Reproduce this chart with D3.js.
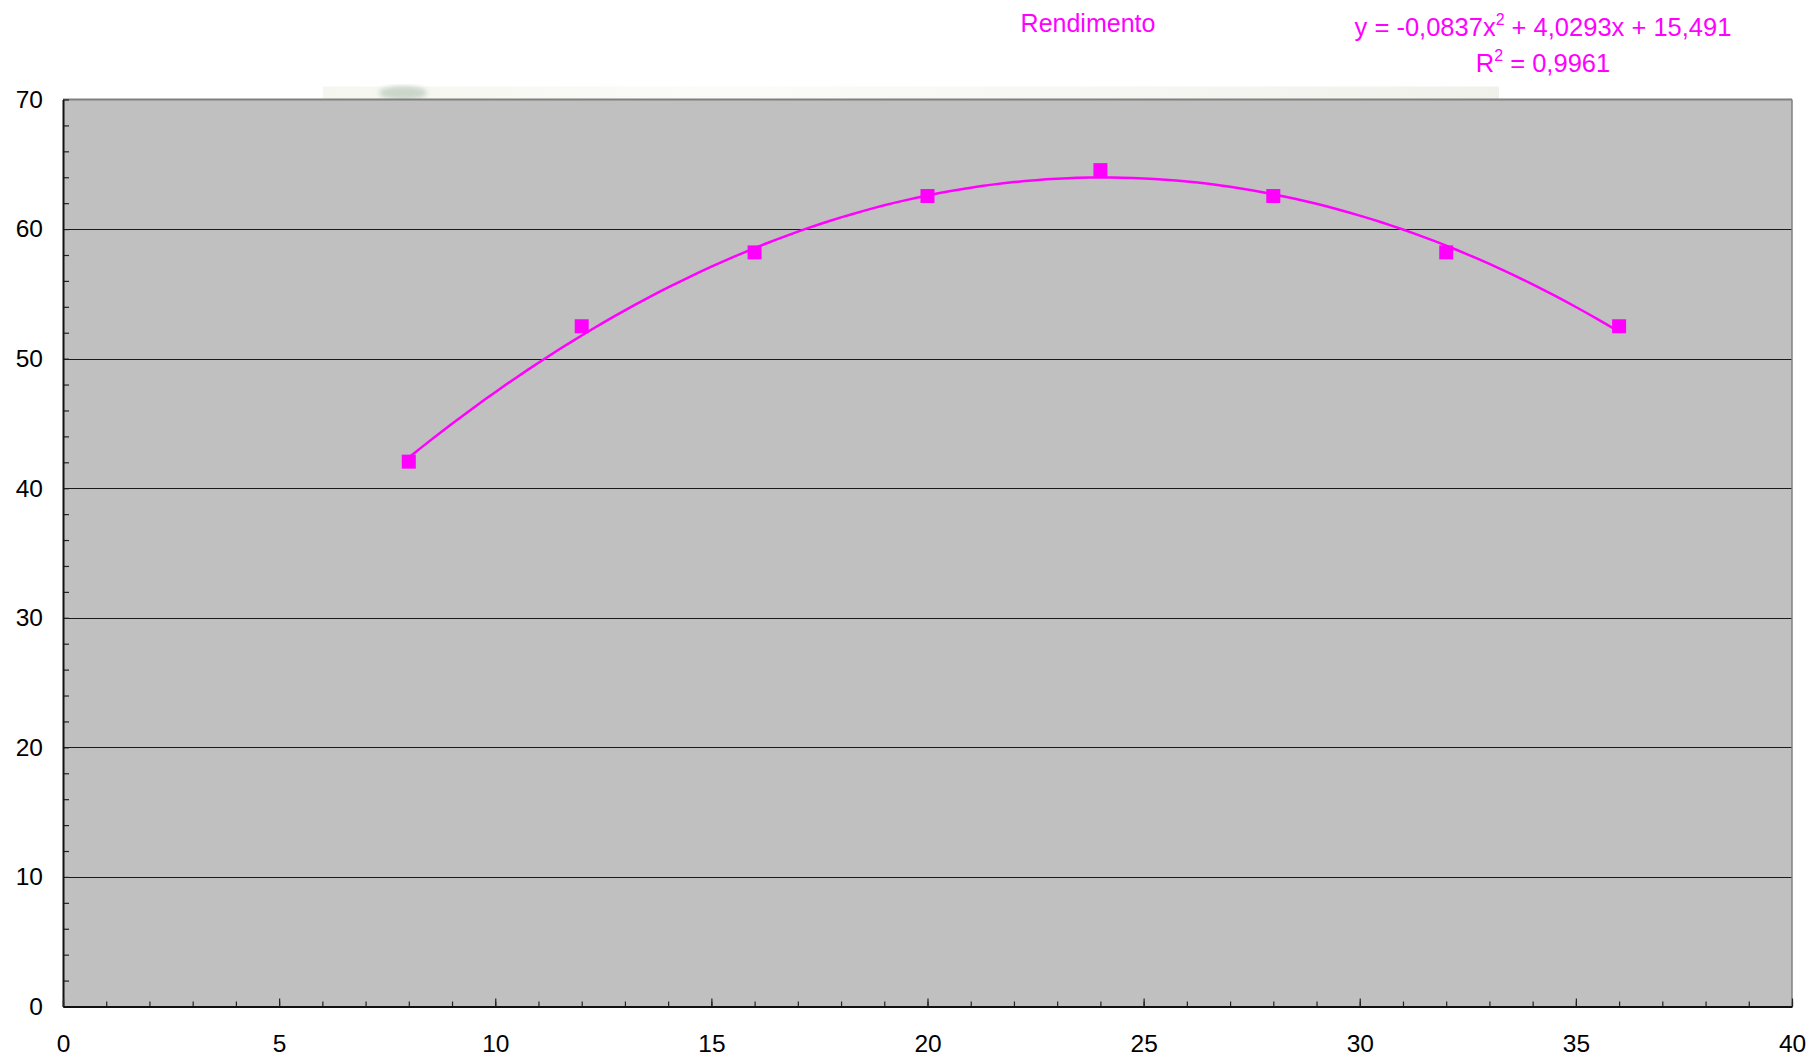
<!DOCTYPE html>
<html>
<head>
<meta charset="utf-8">
<script src="https://cdn.jsdelivr.net/npm/d3@7"></script>
<style>
  html, body { margin: 0; padding: 0; background: #ffffff; }
  svg { display: block; }
  text { font-family: "Liberation Sans", Arial, sans-serif; }
</style>
</head>
<body>
<svg id="chart" width="1812" height="1059"></svg>
<script>
// Measured yield (Rendimento) against x
const xValues = [8, 12, 16, 20, 24, 28, 32, 36];
const rendimento = [42.05, 52.5, 58.2, 62.55, 64.55, 62.55, 58.2, 52.5];

// Polynomial trendline y = a*x^2 + b*x + c, as stated in the label
const trendCoef = [-0.0837, 4.0293, 15.491];
const trendR2 = "0,9961";

const xTicksMajor = [0, 5, 10, 15, 20, 25, 30, 35, 40];
const yTicksMajor = [0, 10, 20, 30, 40, 50, 60, 70];
const seriesName = "Rendimento";

const W = 1812, H = 1059;
const plot = { left: 63, right: 1792, top: 99.5, bottom: 1006.5 };
const magenta = "#ff00ff";

const svg = d3.select("#chart");
svg.append("rect").attr("width", W).attr("height", H).attr("fill", "#ffffff");

const x = d3.scaleLinear().domain([0, 40]).range([plot.left, plot.right]);
const y = d3.scaleLinear().domain([0, 70]).range([plot.bottom, plot.top]);

// faint band and soft smudge just above the plot area
const defs = svg.append("defs");
const band = defs.append("linearGradient").attr("id", "band");
band.append("stop").attr("offset", "0%").attr("stop-color", "#f6f6f0");
band.append("stop").attr("offset", "35%").attr("stop-color", "#fbfbf8");
band.append("stop").attr("offset", "100%").attr("stop-color", "#f1f1ec");
defs.append("filter").attr("id", "soft")
  .append("feGaussianBlur").attr("stdDeviation", 2.5);
svg.append("rect")
  .attr("x", 323).attr("y", 86.5).attr("width", 1499 - 323).attr("height", 13)
  .attr("fill", "url(#band)");
svg.append("ellipse")
  .attr("cx", 403).attr("cy", 93).attr("rx", 24).attr("ry", 7)
  .attr("fill", "#bccbbd").attr("opacity", 0.75).attr("filter", "url(#soft)");

// plot background
svg.append("rect")
  .attr("x", plot.left).attr("y", plot.top)
  .attr("width", plot.right - plot.left).attr("height", plot.bottom - plot.top)
  .attr("fill", "#c0c0c0");

// horizontal gridlines
svg.append("g")
  .selectAll("line")
  .data(yTicksMajor.filter(v => v > 0 && v < 70))
  .join("line")
  .attr("x1", plot.left).attr("x2", plot.right)
  .attr("y1", d => Math.round(y(d)) + 0.5).attr("y2", d => Math.round(y(d)) + 0.5)
  .attr("stroke", "#1a1a1a").attr("stroke-width", 1);

// top and right frame
svg.append("line")
  .attr("x1", plot.left).attr("x2", plot.right)
  .attr("y1", plot.top).attr("y2", plot.top)
  .attr("stroke", "#808080").attr("stroke-width", 2);
svg.append("line")
  .attr("x1", plot.right).attr("x2", plot.right)
  .attr("y1", plot.top).attr("y2", plot.bottom)
  .attr("stroke", "#808080").attr("stroke-width", 1.5);

// y axis: minor ticks every 2, labels every 10
const yMinor = d3.range(0, 71, 2);
svg.append("g")
  .attr("transform", `translate(${plot.left},0)`)
  .call(d3.axisLeft(y).tickValues(yMinor).tickSize(-6).tickSizeOuter(0).tickFormat(""))
  .call(g => g.select(".domain").remove())
  .call(g => g.selectAll("line").attr("stroke", "#222").attr("stroke-width", 1.2));
svg.append("g")
  .attr("transform", `translate(${plot.left},0)`)
  .call(d3.axisLeft(y).tickValues(yTicksMajor).tickSize(0).tickPadding(20).tickSizeOuter(0))
  .call(g => g.select(".domain").attr("stroke", "#111").attr("stroke-width", 2))
  .call(g => g.selectAll("text")
    .attr("font-size", 24.5).attr("fill", "#000")
    .attr("font-family", "'Liberation Sans', Arial, sans-serif"));

// x axis: minor ticks every 1, longer ticks and labels every 5
const xMinor = d3.range(0, 41, 1);
svg.append("g")
  .attr("transform", `translate(0,${plot.bottom})`)
  .call(d3.axisBottom(x).tickValues(xMinor).tickSize(-5).tickSizeOuter(0).tickFormat(""))
  .call(g => g.select(".domain").remove())
  .call(g => g.selectAll("line").attr("stroke", "#222").attr("stroke-width", 1.2));
svg.append("g")
  .attr("transform", `translate(0,${plot.bottom})`)
  .call(d3.axisBottom(x).tickValues(xTicksMajor).tickSize(-8).tickPadding(28).tickSizeOuter(0))
  .call(g => g.select(".domain").attr("stroke", "#111").attr("stroke-width", 2))
  .call(g => g.selectAll("line").attr("stroke", "#222").attr("stroke-width", 1.2))
  .call(g => g.selectAll("text")
    .attr("font-size", 24.5).attr("fill", "#000")
    .attr("font-family", "'Liberation Sans', Arial, sans-serif"));

// quadratic trendline across the measured range
const [qa, qb, qc] = trendCoef;
const xs = d3.extent(xValues);
const trendPts = d3.range(xs[0], xs[1] + 0.0001, 0.25).map(v => [v, qa * v * v + qb * v + qc]);
svg.append("path")
  .datum(trendPts)
  .attr("fill", "none")
  .attr("stroke", magenta)
  .attr("stroke-width", 2.5)
  .attr("d", d3.line().x(d => x(d[0])).y(d => y(d[1])).curve(d3.curveMonotoneX));

// square markers
svg.append("g")
  .selectAll("path")
  .data(xValues.map((v, i) => [v, rendimento[i]]))
  .join("path")
  .attr("transform", d => `translate(${x(d[0])},${y(d[1])})`)
  .attr("d", d3.symbol(d3.symbolSquare, 196))
  .attr("fill", magenta);

// series name and trendline equation
svg.append("text")
  .attr("x", 1088).attr("y", 32)
  .attr("text-anchor", "middle")
  .attr("font-size", 25).attr("fill", magenta)
  .text(seriesName);

const fmt = v => String(Math.abs(v)).replace(".", ",");
const eq = svg.append("text")
  .attr("x", 1543).attr("y", 36)
  .attr("text-anchor", "middle")
  .attr("font-size", 25.5).attr("fill", magenta);
eq.append("tspan").text(`y = ${qa < 0 ? "-" : ""}${fmt(qa)}x`);
eq.append("tspan").attr("dy", -11).attr("font-size", 16).text("2");
eq.append("tspan").attr("dy", 11).text(` ${qb < 0 ? "-" : "+"} ${fmt(qb)}x ${qc < 0 ? "-" : "+"} ${fmt(qc)}`);

const r2 = svg.append("text")
  .attr("x", 1543).attr("y", 72)
  .attr("text-anchor", "middle")
  .attr("font-size", 25.5).attr("fill", magenta);
r2.append("tspan").text("R");
r2.append("tspan").attr("dy", -11).attr("font-size", 16).text("2");
r2.append("tspan").attr("dy", 11).text(` = ${trendR2}`);
</script>
</body>
</html>
